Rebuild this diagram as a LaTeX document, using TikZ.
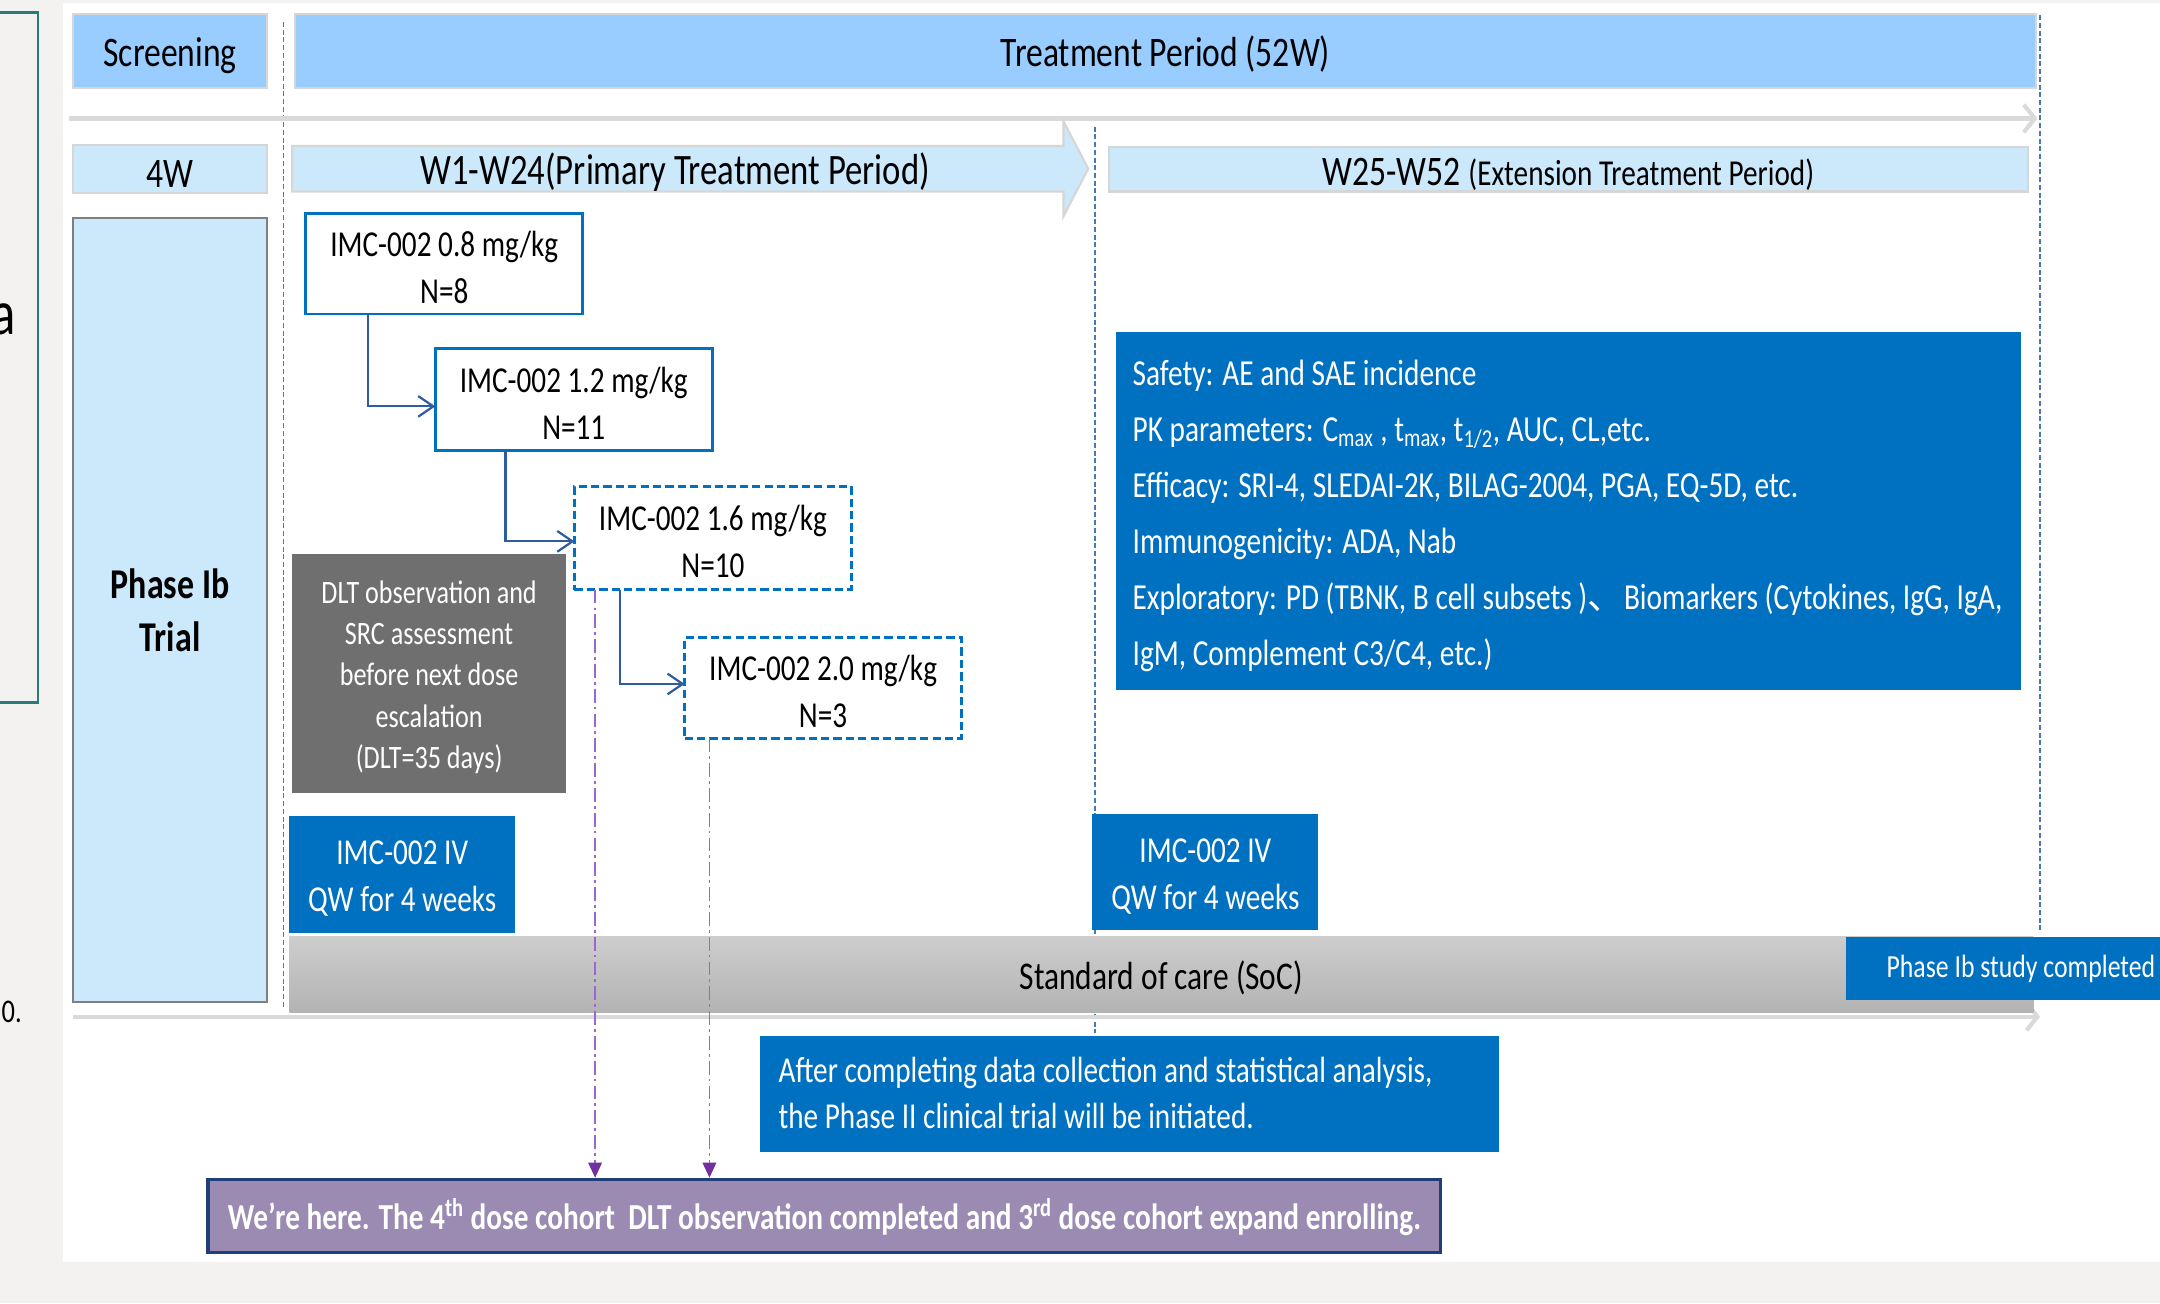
\documentclass[tikz,border=0pt]{standalone}
\usepackage{fontspec}
\setmainfont{Carlito}[FakeStretch=0.8]
\newfontfamily\cjk{Noto Sans CJK SC}
\usetikzlibrary{arrows.meta}
\newcommand{\tup}{\rule{0pt}{0.9em}}
\definecolor{bgray}{HTML}{F3F2F0}
\definecolor{hdrblue}{HTML}{99CCFF}
\definecolor{subblue}{HTML}{CCE8FB}
\definecolor{lgray}{HTML}{D6D6D6}
\definecolor{boxblue}{HTML}{0070C0}
\definecolor{connblue}{HTML}{2E5C9E}
\definecolor{dashblue}{HTML}{4A78B5}
\definecolor{dltgray}{HTML}{6F6F6F}
\definecolor{socTop}{HTML}{CDCDCD}
\definecolor{socBot}{HTML}{B3B3B3}
\definecolor{herefill}{HTML}{9B8BB2}
\definecolor{hereedge}{HTML}{1F3F78}
\definecolor{purline}{HTML}{9A66D0}
\definecolor{purhead}{HTML}{7030A0}
\definecolor{tealc}{HTML}{2A7B78}
\definecolor{tlgray}{HTML}{DADADA}
\definecolor{phgray}{HTML}{7F7F7F}
\tikzset{
  hdrbox/.style={draw=lgray, line width=1.5pt, fill=hdrblue, inner sep=0pt, outer sep=0pt, font=\fontsize{30.5}{36}\selectfont},
  subbox/.style={draw=lgray, line width=1.5pt, fill=subblue, inner sep=0pt, outer sep=0pt, font=\fontsize{30.5}{36}\selectfont},
  dosebox/.style={draw=boxblue, line width=2pt, fill=white, inner sep=0pt, outer sep=0pt, align=center, font=\fontsize{26.5}{34}\selectfont},
  dosedash/.style={dosebox, line width=2.2pt, dash pattern=on 6pt off 3pt},
  bluebox/.style={fill=boxblue, text=white, inner sep=0pt, outer sep=0pt},
  connarrow/.style={draw=connblue, line width=1.6pt, -{Straight Barb[length=11pt,width=15pt]}},
  purarrow/.style={draw=purline, line width=1pt, dash pattern=on 10pt off 3pt on 2pt off 3pt, -{Triangle[length=11pt,width=10pt,color=purhead,fill=purhead]}},
  vdash/.style={draw=dashblue, line width=1pt, dash pattern=on 3.6pt off 2pt},
  tline/.style={draw=tlgray, line width=3pt, -{Straight Barb[length=8pt,width=20pt]}}
}
\begin{document}
\begin{tikzpicture}[x=1pt,y=-1pt]
\useasboundingbox (0,0) rectangle (1568,946);
\fill[bgray] (0,0) rectangle (1568,946);
\fill[white] (46,2) rectangle (1568,916);
% cut-off left panel
\draw[tealc, line width=2pt] (-10,9) rectangle (27.5,510);
\node[anchor=base east, inner sep=0pt, font=\fontsize{46}{46}\selectfont] (cuta) at (12,243) {a};
\node[anchor=base east, inner sep=0pt, font=\fontsize{24}{24}\selectfont] (cutz) at (16,742) {0.};

% guide lines
\coordinate (v1t) at (206,16); \coordinate (v1b) at (206,732);
\coordinate (v2t) at (795,92); \coordinate (v2b) at (795,750);
\coordinate (v3t) at (1481,11); \coordinate (v3b) at (1481,677);
\draw[vdash] (v1t) -- (v1b);
\draw[vdash] (v2t) -- (v2b);
\draw[vdash] (v3t) -- (v3b);
\coordinate (t1a) at (50,86); \coordinate (t1b) at (1479,86);
\coordinate (t2a) at (53,738); \coordinate (t2b) at (1481,738);
\draw[tline] (t1a) -- (t1b);
\draw[tline] (t2a) -- (t2b);

% headers
\node[hdrbox, minimum width=141pt, minimum height=54pt] (screen) at (123.5,37) {\tup Screening};
\node[hdrbox, minimum width=1264pt, minimum height=54pt] (treat) at (846,37) {\tup Treatment Period (52W)};
\node[subbox, minimum width=141pt, minimum height=35pt] (wk4) at (123.5,122.5) {\tup 4W};
\filldraw[fill=subblue, draw=lgray, line width=1.5pt] (212,106) -- (772,106) -- (772,88) -- (790,122.5) -- (772,157) -- (772,139) -- (212,139) -- cycle;
\node[inner sep=0pt, font=\fontsize{31.5}{36}\selectfont] (prim) at (490,122.5) {\tup W1-W24(Primary Treatment Period)};
\node[subbox, minimum width=667pt, minimum height=32pt] (ext) at (1138.5,123) {\tup W25-W52 {\fontsize{26.5}{30}\selectfont(Extension Treatment Period)}};

% phase box
\node[draw=phgray, line width=1.6pt, fill=subblue, inner sep=0pt, minimum width=141pt, minimum height=569pt, align=center, font=\bfseries\fontsize{30.8}{39}\selectfont] (phase) at (123.5,443) {Phase Ib\\Trial};

% dose boxes
\node[dosebox, minimum width=201pt, minimum height=73pt] (d08) at (322.5,191.5) {\tup IMC-002 0.8 mg/kg\\N=8};
\node[dosebox, minimum width=201pt, minimum height=74pt] (d12) at (416.5,290) {\tup IMC-002 1.2 mg/kg\\N=11};
\node[dosedash, minimum width=201pt, minimum height=75pt] (d16) at (517.5,390.5) {\tup IMC-002 1.6 mg/kg\\N=10};
\node[dosedash, minimum width=201pt, minimum height=73pt] (d20) at (597.5,499.5) {\tup IMC-002 2.0 mg/kg\\N=3};
\draw[connarrow] ([xshift=-55.5pt]d08.south) |- ([yshift=-5pt]d12.west);
\draw[connarrow] ([xshift=-49.5pt]d12.south) |- ([yshift=-2.5pt]d16.west);
\draw[connarrow] ([xshift=-67.5pt]d16.south) |- ([yshift=3pt]d20.west);

% DLT box
\node[fill=dltgray, text=white, inner sep=0pt, minimum width=199pt, minimum height=174pt, align=center, font=\fontsize{23.7}{30}\selectfont] (dlt) at (311.5,489) {\tup DLT observation and\\SRC assessment\\before next dose\\escalation\\(DLT=35 days)};

% IV boxes
\node[bluebox, minimum width=164pt, minimum height=85pt, align=center, font=\fontsize{26.5}{34}\selectfont] (iv1) at (292,634.5) {\tup IMC-002 IV\\QW for 4 weeks};
\node[bluebox, minimum width=164pt, minimum height=84pt, align=center, font=\fontsize{26.5}{34}\selectfont] (iv2) at (875,633) {\tup IMC-002 IV\\QW for 4 weeks};

% SoC bar
\node[top color=socTop, bottom color=socBot, inner sep=0pt, minimum width=1266pt, minimum height=55pt, font=\fontsize{28.5}{34}\selectfont] (soc) at (843,707.5) {\tup Standard of care (SoC)};
\node[bluebox, minimum width=254pt, minimum height=46pt, font=\fontsize{23.4}{28}\selectfont] (done) at (1467,703) {Phase Ib study completed};

% endpoints box
\node[bluebox, minimum width=657pt, minimum height=260pt] (safe) at (1138.5,371) {};
\node[anchor=west, text=white, inner sep=0pt, align=left, font=\fontsize{26.6}{40.6}\selectfont] (safetxt) at (822,374.5) {Safety: AE and SAE incidence\\
PK parameters: C\textsubscript{max} , t\textsubscript{max}, t\textsubscript{1/2}, AUC, CL,etc.\\
Efficacy: SRI-4, SLEDAI-2K, BILAG-2004, PGA, EQ-5D, etc.\\
Immunogenicity: ADA, Nab\\
Exploratory: PD (TBNK, B cell subsets ){\cjk 、}Biomarkers (Cytokines, IgG, IgA,\\
IgM, Complement C3/C4, etc.)};

% after box
\node[bluebox, minimum width=536pt, minimum height=84pt] (after) at (820,794) {};
\node[anchor=west, text=white, inner sep=0pt, align=left, font=\fontsize{26.5}{33}\selectfont] (aftertxt) at (565,793.5) {After completing data collection and statistical analysis,\\the Phase II clinical trial will be initiated.};

% here box
\node[fill=herefill, draw=hereedge, line width=2.2pt, text=white, inner sep=0pt, minimum width=895pt, minimum height=53pt, font=\bfseries\fontsize{26.6}{30}\selectfont] (here) at (598.5,882.5) {\tup We’re here. The 4\textsuperscript{th} dose cohort\ \ DLT observation completed and 3\textsuperscript{rd} dose cohort expand enrolling.};

% purple pointers
\draw[purarrow] ([xshift=-85.5pt]d16.south) -- ([xshift=-85.5pt]d16.south |- here.north);
\draw[purarrow] ([xshift=-82.5pt]d20.south) -- ([xshift=-82.5pt]d20.south |- here.north);
\end{tikzpicture}
\end{document}
